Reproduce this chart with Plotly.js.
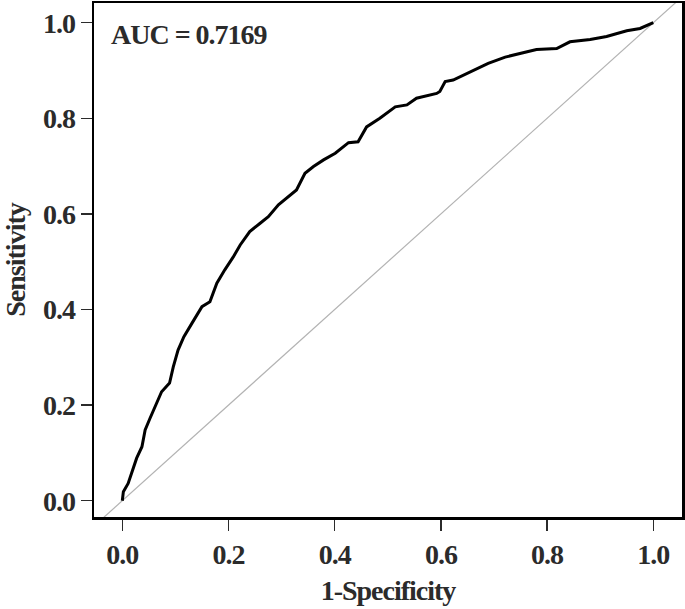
<!DOCTYPE html>
<html>
<head>
<meta charset="utf-8">
<script src="https://cdn.plot.ly/plotly-3.0.1.min.js"></script>
<style>
  html, body { margin: 0; padding: 0; background: #fff; }
  #chart { width: 685px; height: 609px; }
  /* the original lettering is a tight, condensed bold serif */
  #chart text { letter-spacing: -1px; }
</style>
</head>
<body>
<div id="chart"></div>
<script>
// ROC curve
const fpr = [0.000, 0.002, 0.011, 0.020, 0.027, 0.037, 0.043, 0.052, 0.065, 0.074,
             0.089, 0.096, 0.105, 0.116, 0.131, 0.150, 0.165, 0.178, 0.193, 0.209,
             0.222, 0.240, 0.259, 0.275, 0.294, 0.310, 0.328, 0.344, 0.360, 0.379,
             0.401, 0.426, 0.444, 0.460, 0.485, 0.514, 0.536, 0.554, 0.592, 0.598,
             0.608, 0.623, 0.655, 0.689, 0.721, 0.749, 0.780, 0.818, 0.843, 0.881,
             0.912, 0.950, 0.975, 1.000];
const tpr = [0.000, 0.019, 0.036, 0.064, 0.089, 0.113, 0.148, 0.172, 0.207, 0.228,
             0.246, 0.280, 0.315, 0.343, 0.371, 0.406, 0.416, 0.455, 0.483, 0.510,
             0.535, 0.563, 0.580, 0.594, 0.619, 0.633, 0.650, 0.685, 0.699, 0.713,
             0.727, 0.749, 0.751, 0.782, 0.800, 0.824, 0.828, 0.842, 0.852, 0.856,
             0.877, 0.880, 0.897, 0.915, 0.928, 0.936, 0.944, 0.946, 0.960, 0.965,
             0.971, 0.983, 0.988, 1.000];

// reference line y = x (clipped by the plot area)
const diagX = [-0.2, 1.2];
const diagY = [-0.2, 1.2];

const tickVals = [0, 0.2, 0.4, 0.6, 0.8, 1.0];
const tickText = ['0.0', '0.2', '0.4', '0.6', '0.8', '1.0'];
const aucLabel = 'AUC = 0.7169';

const serif = 'Liberation Serif, Times New Roman, serif';
const ink = '#2b2b2b';

const diag = {
    x: diagX,
    y: diagY,
    type: 'scatter',
    mode: 'lines',
    line: {color: '#b3b3b3', width: 1.2},
    hoverinfo: 'skip'
};

const roc = {
    x: fpr,
    y: tpr,
    type: 'scatter',
    mode: 'lines',
    line: {color: '#000000', width: 3}
};

const axisBase = {
    showgrid: false,
    zeroline: false,
    showline: true,
    mirror: true,
    linecolor: '#000000',
    linewidth: 2.5,
    ticks: 'outside',
    ticklen: 11,
    tickwidth: 1.5,
    tickcolor: ink,
    tickvals: tickVals,
    ticktext: tickText,
    tickfont: {family: serif, size: 28, color: ink, weight: 'bold'}
};

const layout = {
    width: 685,
    height: 609,
    margin: {l: 94, r: 3, t: 3, b: 92},
    paper_bgcolor: '#ffffff',
    plot_bgcolor: '#ffffff',
    showlegend: false,
    xaxis: Object.assign({}, axisBase, {
        range: [-0.0533, 1.054],
        title: {text: '1-Specificity', standoff: 12,
                font: {family: serif, size: 28, color: ink, weight: 'bold'}}
    }),
    yaxis: Object.assign({}, axisBase, {
        range: [-0.0341, 1.0412],
        title: {text: 'Sensitivity', standoff: 13,
                font: {family: serif, size: 28, color: ink, weight: 'bold'}}
    }),
    annotations: [{
        x: -0.037, y: 0.975, xref: 'x', yref: 'y',
        xanchor: 'left', yanchor: 'middle',
        text: aucLabel, showarrow: false,
        font: {family: serif, size: 28, color: ink, weight: 'bold'}
    }]
};

Plotly.newPlot('chart', [diag, roc], layout, {displayModeBar: false, staticPlot: true});
</script>
</body>
</html>
